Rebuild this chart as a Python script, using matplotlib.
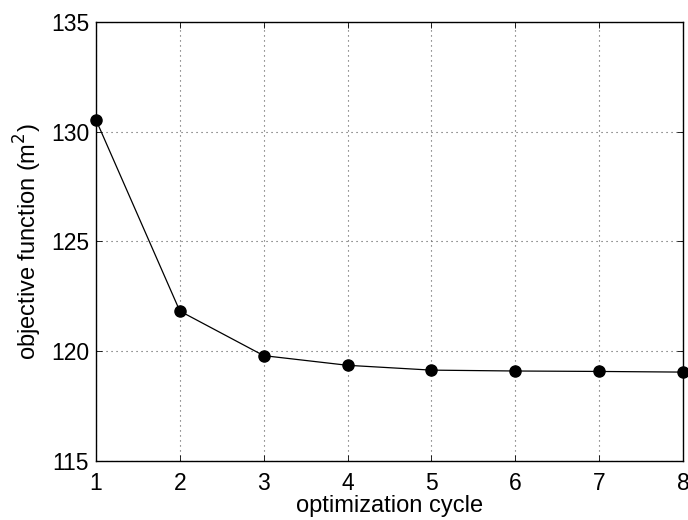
import matplotlib
matplotlib.use("Agg")
import matplotlib.pyplot as plt

cycles = [1, 2, 3, 4, 5, 6, 7, 8]
objective = [130.54, 121.83, 119.8, 119.36, 119.14, 119.1, 119.08, 119.05]
xticks = [1, 2, 3, 4, 5, 6, 7, 8]
yticks = [115, 120, 125, 130, 135]

plt.rcParams['font.family'] = ['Liberation Sans', 'DejaVu Sans']
fig = plt.figure(figsize=(6.88, 5.2), dpi=100)
ax = fig.add_axes([96/688, (520-461)/520, (683-96)/688, (461-22)/520])

ax.plot(cycles, objective, color='black', lw=0.9, marker='o', ms=8,
        mfc='black', mec='black', zorder=3, clip_on=False)

ax.set_xlim(1, 8)
ax.set_ylim(115, 135)
ax.set_xticks(xticks)
ax.set_yticks(yticks)
ax.tick_params(direction='in', length=4, width=0.6, labelsize=16.5,
               top=True, right=True, colors='black')
ax.tick_params(axis='x', pad=8)
ax.tick_params(axis='y', pad=5)
ax.grid(True, linestyle=(0, (1, 3.5)), color='#555555', lw=0.8)
for s in ax.spines.values():
    s.set_linewidth(1.0)
    s.set_color('black')

ax.set_xlabel('optimization cycle', fontsize=17, labelpad=0)
ax.set_ylabel('objective function (m$^2$)', fontsize=17, labelpad=5)

fig.savefig('out.png', dpi=100)
